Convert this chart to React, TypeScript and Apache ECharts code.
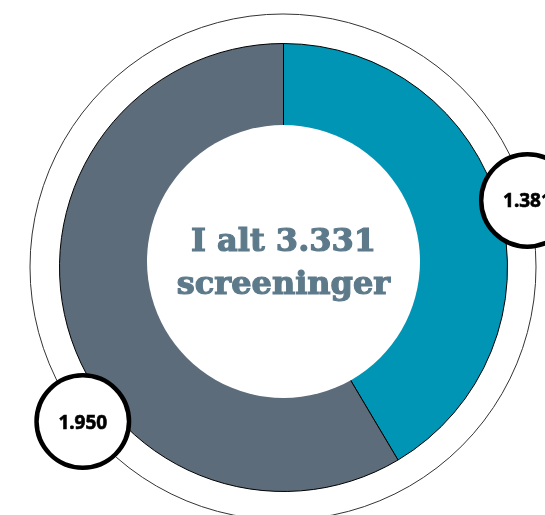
import React, { useEffect, useRef } from "react";
import * as echarts from "echarts";

const categories = ["Gruppe A", "Gruppe B"];
const values = [1381, 1950];
const labels = ["1.381", "1.950"];
const colors = ["#0094b5", "#5c6c7a"];
const centerLines = ["I alt 3.331", "screeninger"];

// label bubble angles (degrees clockwise from top); null = mid angle of slice
const LABEL_ANGLES: (number | null)[] = [null, 232.5];

export default function App() {
  const ref = useRef<HTMLDivElement>(null);
  useEffect(() => {
    if (!ref.current) return;
    const chart = echarts.init(ref.current, null, { renderer: "svg" });
    const cx = 283.5;
    const cy = 267.5;
    const R = 224;
    const ringR = 253;
    const total = values.reduce((a, b) => a + b, 0);
    const angleFor = (i: number) => {
      const a = LABEL_ANGLES[i];
      if (a != null) return a;
      let start = 0;
      for (let k = 0; k < i; k++) start += values[k];
      return ((start + values[i] / 2) / total) * 360;
    };
    chart.setOption({
      animation: false,
      graphic: [
        {
          type: "circle",
          z: 0,
          shape: { cx: cx - 0.5, cy: cy - 0.5, r: ringR },
          style: { fill: "none", stroke: "#333", lineWidth: 1 },
        },
        {
          type: "circle",
          z: 10,
          shape: { cx: cx, cy: 261.5, r: 136.5 },
          style: { fill: "#ffffff" },
        },
        {
          type: "text",
          z: 11,
          x: cx,
          y: 261,
          style: {
            text: centerLines.join("\n"),
            fill: "#5d7a8b",
            stroke: "#5d7a8b",
            lineWidth: 1.2,
            font: "bold 32px 'DejaVu Serif'",
            lineHeight: 43,
            align: "center",
            verticalAlign: "middle",
          },
        },
      ],
      series: [
        {
          type: "pie",
          center: [cx, cy],
          radius: [0, R],
          startAngle: 90,
          clockwise: true,
          avoidLabelOverlap: false,
          data: categories.map((c, i) => ({
            name: c,
            value: values[i],
            itemStyle: { color: colors[i] },
          })),
          itemStyle: { borderColor: "#000", borderWidth: 1 },
          emphasis: { disabled: true },
          labelLine: { show: false },
          label: {
            show: true,
            position: "outside",
            formatter: (p: any) => labels[p.dataIndex],
            color: "#000",
            fontFamily: "Noto Sans",
            fontWeight: "bold",
            fontSize: 19,
            textBorderColor: "#000",
            textBorderWidth: 0.6,
            width: 88,
            height: 88,
            lineHeight: 88,
            align: "center",
            backgroundColor: "#fff",
            borderColor: "#000",
            borderWidth: 4.5,
            borderRadius: 46,
          },
          labelLayout: (params: any) => {
            const a = (angleFor(params.dataIndex) * Math.PI) / 180;
            return {
              x: cx + ringR * Math.sin(a),
              y: cy - ringR * Math.cos(a),
              align: "center",
              verticalAlign: "middle",
            };
          },
        },
      ],
    });
    return () => chart.dispose();
  }, []);
  return (
    <div
      ref={ref}
      style={{ position: "fixed", left: 0, top: 0, width: 545, height: 515 }}
    />
  );
}
